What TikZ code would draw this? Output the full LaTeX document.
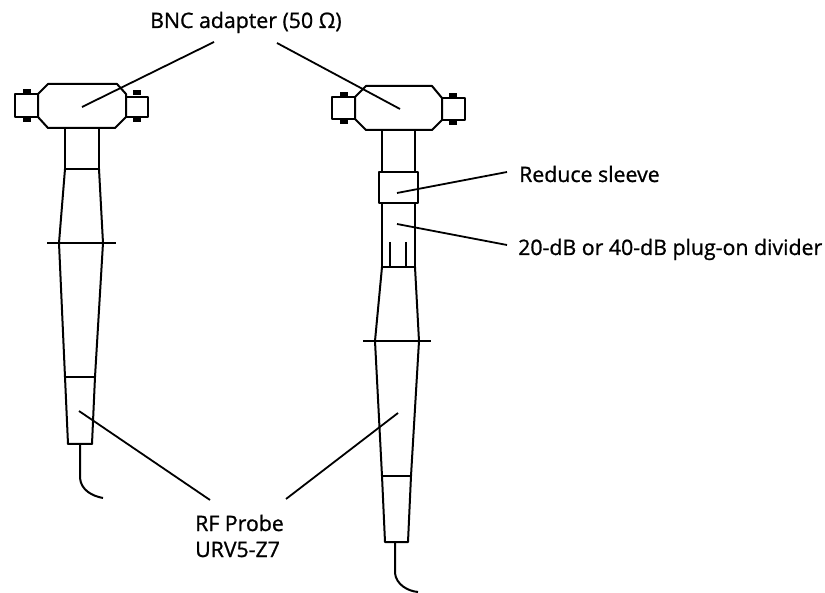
\documentclass[tikz,border=0pt]{standalone}
\usepackage{fontspec}
\setmainfont[FakeBold=1]{Open Sans}
\usepackage{tikz}
\usetikzlibrary{positioning}
\tikzstyle{probeline} = [line width=2pt, line join=round, black]
\tikzstyle{leader} = [line width=1.8pt, black]
\tikzstyle{pinblock} = [fill=black, draw=none]
\tikzstyle{callout} = [anchor=base west, inner sep=0pt, font=\fontsize{21.3}{25}\selectfont]

\begin{document}
\begin{tikzpicture}[x=1pt, y=-1pt]
  \useasboundingbox (0, 0) rectangle (825, 593);

  % left probe
  \draw[probeline] (48, 84) -- (117, 84) -- (126, 94) -- (126, 117) -- (115, 128) -- (48, 128) -- (38, 117) -- (38, 94) -- cycle;
  \draw[probeline] (38, 94) -- (15, 94) -- (15, 117) -- (38, 117);
  \draw[probeline] (126, 97) -- (148, 97) -- (148, 117) -- (126, 117);
  \foreach \x/\y in {23/89, 23/117, 133/90, 133/117}
    \fill[pinblock] (\x, \y) rectangle ++(8, 5.5);
  \draw[probeline] (65, 128) -- (65, 169) -- (99, 169) -- (99, 128);
  \draw[probeline] (65, 169) -- (59, 243) -- (65, 377) -- (68, 444) -- (92, 444) -- (95, 377) -- (103, 243) -- (99, 169);
  \draw[probeline] (65, 377) -- (95, 377);
  \draw[probeline] (47, 243) -- (116, 243);
  \draw[probeline] (80, 444) -- (80, 478) .. controls (81, 490) and (92, 496) .. (103, 498);

  % right probe
  \draw[probeline] (366, 86) -- (432, 86) -- (442, 98) -- (442, 120) -- (432, 130) -- (366, 130) -- (355, 119) -- (355, 97) -- cycle;
  \draw[probeline] (355, 97) -- (332, 97) -- (332, 119) -- (355, 119);
  \draw[probeline] (442, 98) -- (465, 98) -- (465, 120) -- (442, 120);
  \foreach \x/\y in {340/92, 340/119, 449/93, 449/120}
    \fill[pinblock] (\x, \y) rectangle ++(8, 5.5);
  \draw[probeline] (382, 130) -- (382, 172);
  \draw[probeline] (415, 130) -- (415, 172);
  \draw[probeline] (379, 172) rectangle (418, 203);
  \draw[probeline] (382, 203) -- (382, 267) -- (415, 267) -- (415, 203);
  \foreach \x in {390, 406}
    \draw[probeline] (\x, 242) -- (\x, 267);
  \draw[probeline] (382, 267) -- (375, 341) -- (382, 476) -- (385, 542) -- (408, 542) -- (411, 476) -- (419, 341) -- (415, 267);
  \draw[probeline] (382, 476) -- (411, 476);
  \draw[probeline] (363, 341) -- (431, 341);
  \draw[probeline] (395, 542) -- (395, 573) .. controls (396, 584) and (407, 591) .. (418, 592);

  % labels
  \node[callout] (bnc) at (150, 28) {BNC adapter (50 Ω)};
  \node[callout] (sleeve) at (519, 182) {Reduce sleeve};
  \node[callout] (divider) at (518, 255) {20-dB or 40-dB plug-on divider};
  \node[callout] (probe) at (195, 531) {RF Probe};
  \node[callout] (urv) at (195, 557) {URV5-Z7};

  % leader ends
  \coordinate (bncleft) at (214, 42);
  \coordinate (bncright) at (277, 43);
  \coordinate (sleeveend) at (507, 172);
  \coordinate (dividerend) at (507, 245);
  \coordinate (probeleft) at (210, 500);
  \coordinate (proberight) at (286, 499);
  \coordinate (adapterl) at (82, 107);
  \coordinate (adapterr) at (400, 109);
  \coordinate (sleevein) at (397, 193);
  \coordinate (dividerin) at (397, 224);
  \coordinate (tipl) at (79, 411);
  \coordinate (tipr) at (398, 413);

  \draw[leader] (bncleft) -- (adapterl);
  \draw[leader] (bncright) -- (adapterr);
  \draw[leader] (sleeveend) -- (sleevein);
  \draw[leader] (dividerend) -- (dividerin);
  \draw[leader] (probeleft) -- (tipl);
  \draw[leader] (proberight) -- (tipr);

\end{tikzpicture}
\end{document}
